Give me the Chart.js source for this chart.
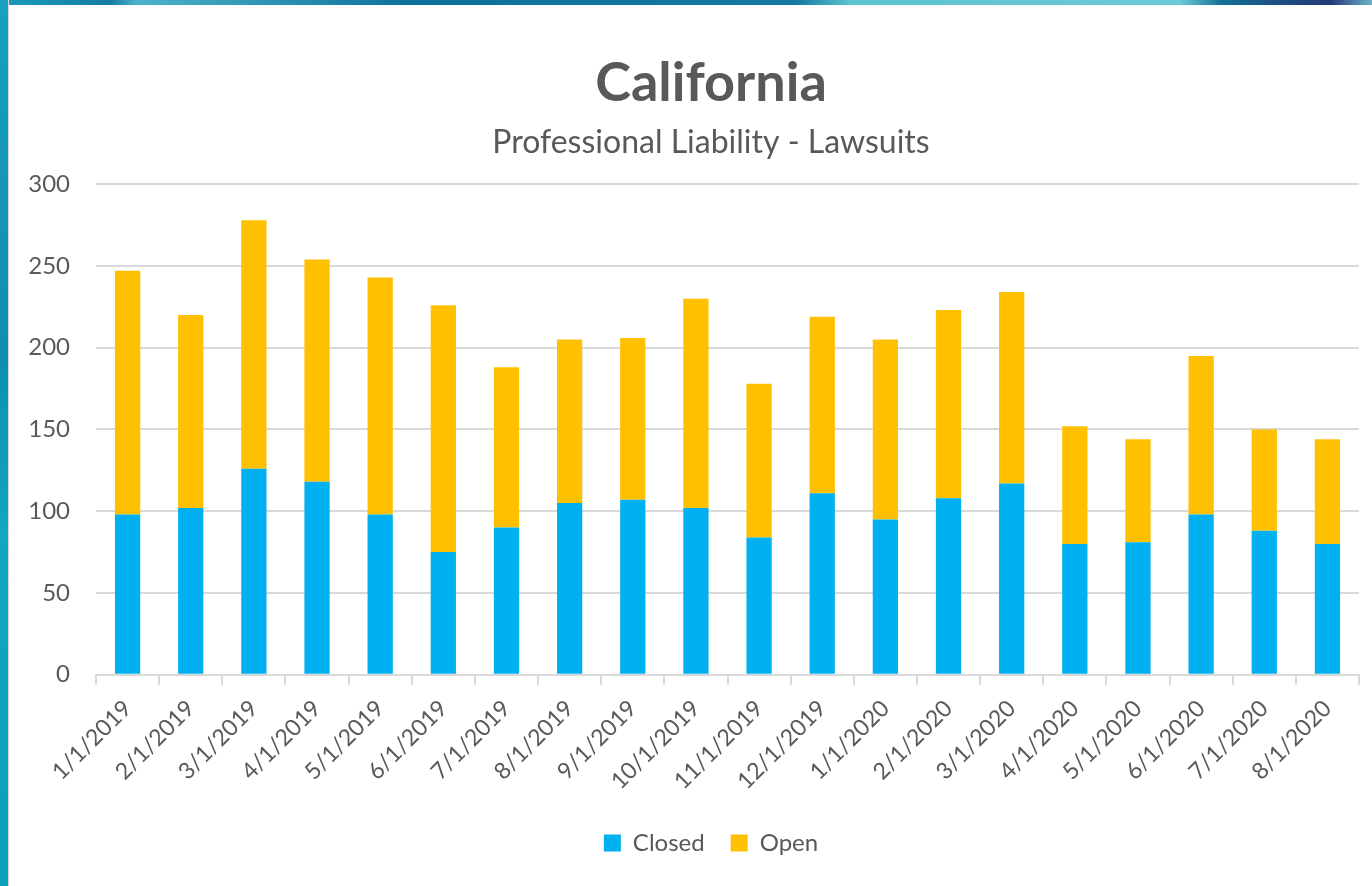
<!DOCTYPE html>
<html>
<head>
<meta charset="utf-8">
<title>California - Professional Liability - Lawsuits</title>
<script src="https://cdn.jsdelivr.net/npm/chart.js@4.4.1/dist/chart.umd.min.js"></script>
<style>
  html, body { margin: 0; padding: 0; background: #fff; }
  #wrap { position: relative; width: 1372px; height: 886px; overflow: hidden; background: #fff; }
  #topband { position: absolute; left: 0; top: 0; width: 1372px; height: 5px;
    background: linear-gradient(90deg, #1b9cbc 0%, #137ca3 8%, #4db3c9 10%, #0f6f9c 30%, #147aa0 58%, #5dc3d1 62%, #6acbd4 86%, #127199 89%, #1d4f86 93%, #223a78 97%, #6fb2c9 100%); }
  #leftband { position: absolute; left: 0; top: 0; width: 8px; height: 886px;
    background: linear-gradient(180deg, #1a9fc0 0%, #0d8fb0 40%, #12a6bf 60%, #0aa0bc 100%);
    border-right: 1px solid #d8d8d8; }
  canvas { position: absolute; left: 0; top: 0; }
</style>
</head>
<body>
<div id="wrap">
  <canvas id="lawsuitChart" width="1372" height="886"></canvas>
  <div id="topband"></div>
  <div id="leftband"></div>
</div>
<script>
const months = ['1/1/2019', '2/1/2019', '3/1/2019', '4/1/2019', '5/1/2019', '6/1/2019',
    '7/1/2019', '8/1/2019', '9/1/2019', '10/1/2019', '11/1/2019', '12/1/2019',
    '1/1/2020', '2/1/2020', '3/1/2020', '4/1/2020', '5/1/2020', '6/1/2020',
    '7/1/2020', '8/1/2020'];
const closedCases = [98, 102, 126, 118, 98, 75, 90, 105, 107, 102, 84, 111, 95, 108, 117, 80, 81, 98, 88, 80];
const openCases = [149, 118, 152, 136, 145, 151, 98, 100, 99, 128, 94, 108, 110, 115, 117, 72, 63, 97, 62, 64];
const yTicks = [0, 50, 100, 150, 200, 250, 300];

const textColor = '#595959';
const gridColor = '#d9d9d9';
const fontFamily = 'Lato, "Open Sans", sans-serif';

// the y axis box is kept narrow so the title centres like the original;
// let its labels spill into the left padding instead of being clipped
const yLabelRoom = {
    id: 'yLabelRoom',
    afterLayout(chart) {
        chart.scales.y.left = 0;
    }
};

const ctx = document.getElementById('lawsuitChart');
new Chart(ctx, {
    type: 'bar',
    data: {
        labels: months,
        datasets: [{
            label: 'Closed',
            data: closedCases,
            backgroundColor: '#00b0f0',
            barPercentage: 0.4,
            categoryPercentage: 1
        }, {
            label: 'Open',
            data: openCases,
            backgroundColor: '#ffc000',
            barPercentage: 0.4,
            categoryPercentage: 1
        }]
    },
    options: {
        responsive: false,
        animation: false,
        layout: { padding: { left: 63, right: 13, top: 51, bottom: 21 } },
        plugins: {
            title: {
                display: true,
                text: 'California',
                color: textColor,
                font: { family: fontFamily, size: 54, weight: 'bold' },
                padding: { top: 0, bottom: 0 }
            },
            subtitle: {
                display: true,
                text: 'Professional Liability - Lawsuits',
                color: textColor,
                font: { family: fontFamily, size: 32 },
                padding: { top: 8, bottom: 22 }
            },
            legend: {
                position: 'bottom',
                labels: {
                    color: textColor,
                    font: { family: fontFamily, size: 24 },
                    boxWidth: 17,
                    boxHeight: 17,
                    padding: 26
                }
            },
            tooltip: { enabled: false }
        },
        scales: {
            x: {
                stacked: true,
                grid: {
                    offset: true,
                    drawOnChartArea: false,
                    drawTicks: true,
                    tickLength: 10,
                    color: gridColor,
                    lineWidth: 2
                },
                border: { display: true, color: gridColor, width: 2 },
                ticks: {
                    color: textColor,
                    font: { family: fontFamily, size: 23 },
                    minRotation: 45,
                    maxRotation: 45,
                    padding: 10,
                    autoSkip: false
                }
            },
            y: {
                stacked: true,
                min: 0,
                max: 300,
                afterBuildTicks: scale => {
                    scale.ticks = yTicks.map(v => ({ value: v }));
                },
                afterFit: scale => { scale.width = 33; },
                grid: { color: gridColor, lineWidth: 2, drawTicks: false },
                border: { display: false },
                ticks: {
                    color: textColor,
                    font: { family: fontFamily, size: 24 },
                    padding: 26
                }
            }
        }
    },
    plugins: [yLabelRoom]
});
</script>
</body>
</html>
